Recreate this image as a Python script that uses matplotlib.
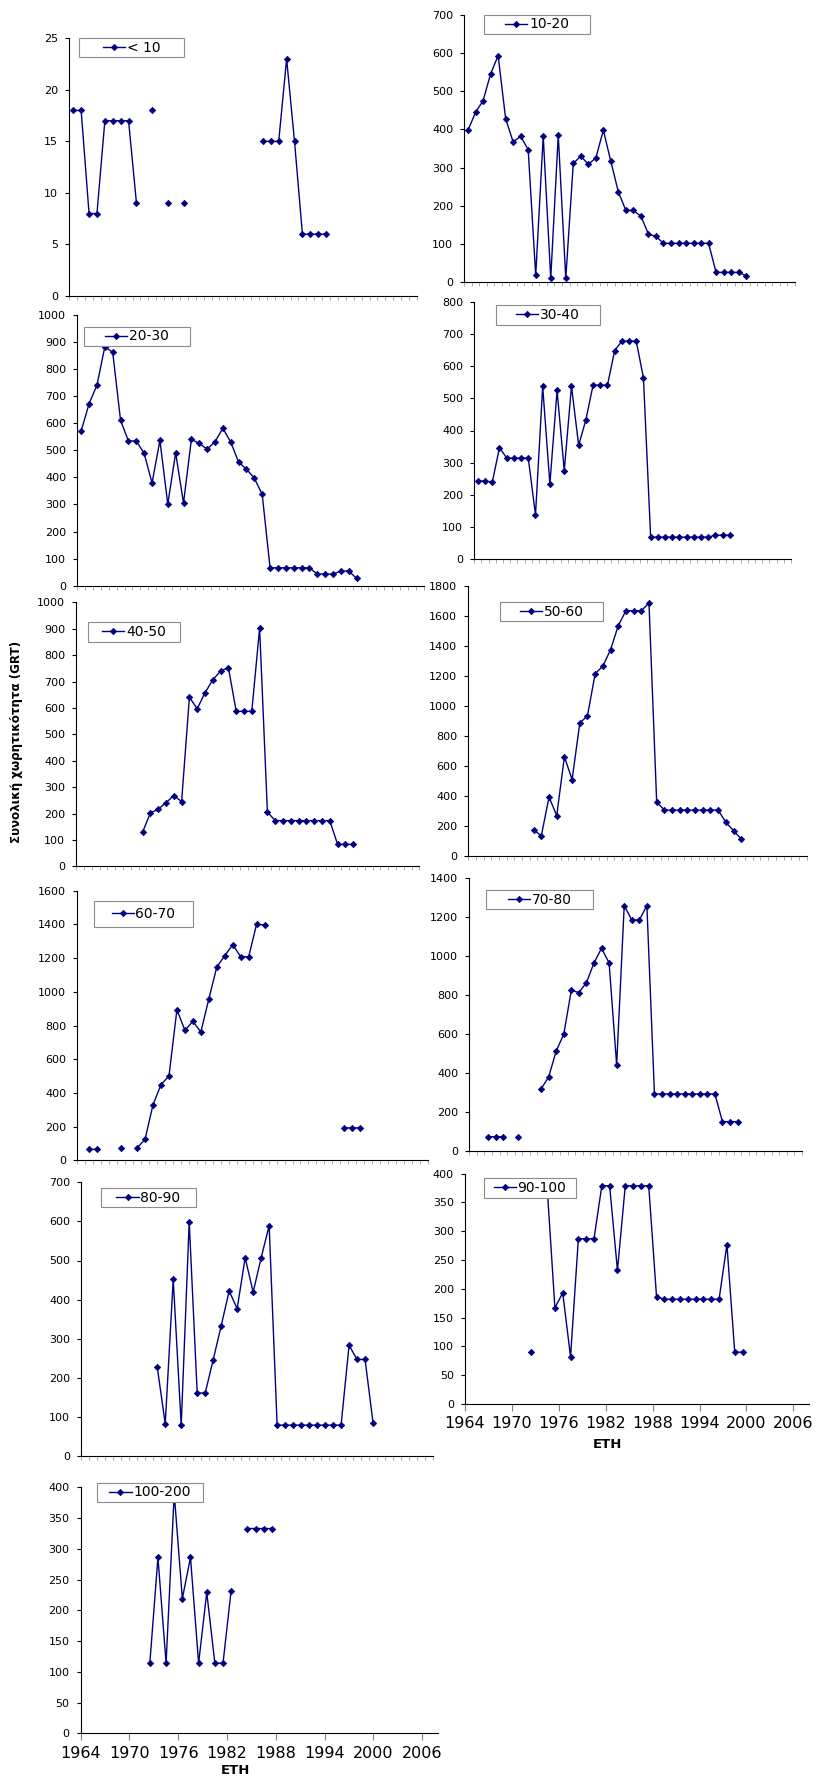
import numpy as np
import matplotlib.pyplot as plt
from matplotlib.patches import Rectangle

plt.rcParams['font.family'] = 'DejaVu Sans'

nan = np.nan
years = np.arange(1964, 2002)

#---------DATA: total tonnage (GRT) per size class, 1964-2001 (nan = no value)----------
lt10 = [18, 18, 8, 8, 17, 17, 17, 17, 9, nan,
        18, nan, 9, nan, 9, nan, nan, nan, nan, nan,
        nan, nan, nan, nan, 15, 15, 15, 23, 15, 6,
        6, 6, 6, nan, nan, nan, nan, nan]
c10_20 = [398, 445, 475, 545, 593, 428, 367, 382, 347, 18,
          382, 10, 385, 10, 311, 330, 309, 325, 398, 316,
          236, 188, 188, 173, 126, 120, 102, 102, 102, 102,
          102, 102, 102, 26, 26, 26, 26, 17]
c20_30 = [572, 672, 740, 882, 861, 610, 534, 534, 488, 379,
          536, 301, 490, 305, 540, 525, 504, 531, 581, 530,
          456, 430, 397, 337, 66, 66, 66, 66, 66, 66,
          43, 43, 43, 54, 54, 27, nan, nan]
c30_40 = [243, 243, 239, 347, 314, 314, 314, 314, 137, 537,
          233, 525, 275, 538, 354, 433, 541, 541, 541, 649,
          678, 678, 678, 564, 68, 68, 68, 68, 68, 68,
          68, 68, 68, 74, 74, 74, nan, nan]
c40_50 = [nan, nan, nan, nan, nan, nan, nan, nan, 130, 202,
          216, 241, 268, 245, 640, 597, 657, 707, 739, 753,
          587, 587, 587, 902, 206, 173, 173, 173, 173, 173,
          173, 173, 173, 83, 83, 83, nan, nan]
c50_60 = [nan, nan, nan, nan, nan, nan, nan, nan, 171, 133,
          391, 267, 660, 507, 884, 933, 1213, 1264, 1373, 1533,
          1633, 1633, 1633, 1684, 358, 304, 304, 304, 304, 304,
          304, 304, 304, 222, 167, 111, nan, nan]
c60_70 = [nan, 65, 65, nan, nan, 73, nan, 73, 125, 330,
          449, 500, 894, 771, 825, 761, 957, 1147, 1214, 1280,
          1208, 1208, 1402, 1396, nan, nan, nan, nan, nan, nan,
          nan, nan, nan, 192, 192, 192, nan, nan]
c70_80 = [nan, nan, 75, 75, 75, nan, 75, nan, nan, 320,
          381, 515, 600, 826, 814, 865, 966, 1041, 966, 443,
          1260, 1186, 1186, 1260, 294, 294, 294, 294, 294, 294,
          294, 294, 294, 152, 152, 152, nan, nan]
c80_90 = [nan, nan, nan, nan, nan, nan, nan, nan, nan, 228,
          82, 452, 79, 599, 161, 161, 246, 333, 422, 377,
          507, 419, 507, 589, 79, 79, 79, 79, 79, 79,
          79, 79, 79, 283, 247, 247, 85, nan]
c90_100 = [nan, nan, nan, nan, nan, nan, nan, nan, 91, nan,
           378, 167, 193, 82, 287, 287, 287, 379, 379, 232,
           379, 379, 379, 379, 186, 182, 182, 182, 182, 182,
           182, 182, 182, 277, 90, 90, nan, nan]
c100_200 = [nan, nan, nan, nan, nan, nan, nan, nan, 114, 286,
            114, 390, 219, 286, 114, 229, 114, 114, 232, nan,
            333, 333, 333, 333, nan, nan, nan, nan, nan, nan,
            nan, nan, nan, nan, nan, nan, nan, nan]

labels = ['< 10', '10-20', '20-30', '30-40', '40-50', '50-60',
          '60-70', '70-80', '80-90', '90-100', '100-200']
series = [lt10, c10_20, c20_30, c30_40, c40_50, c50_60,
          c60_70, c70_80, c80_90, c90_100, c100_200]
ymax = [25, 700, 1000, 800, 1000, 1800, 1600, 1400, 700, 400, 400]
ystep = [5, 100, 100, 100, 100, 200, 200, 200, 100, 50, 50]

#---------LAYOUT (pixels): plot area left, right, top, bottom----------
W, H = 820, 1778
boxes = [(69.3, 417, 38.3, 296), (464.3, 795, 14.7, 282.3),
         (77.3, 423.5, 314.7, 585.7), (474.3, 791, 302, 559),
         (76.3, 419.5, 602.3, 866.3), (468.3, 806.6, 585.7, 855.7),
         (77.3, 428, 890.7, 1160.3), (469.3, 801.8, 878.3, 1151.3),
         (81.3, 433, 1182.3, 1456), (465, 809, 1173.7, 1404),
         (80.7, 438.5, 1487.3, 1733.3)]
# legend boxes: left, right, top, bottom
legboxes = [(79, 184, 38, 57), (484, 590, 15, 34),
            (84, 190, 327, 346), (496, 600, 305, 325),
            (88, 180, 622, 642), (500, 603, 602, 621),
            (94, 193, 901, 927), (486, 593, 890, 909),
            (101, 196, 1188, 1207), (484, 576, 1178, 1198),
            (97, 203, 1483, 1502)]

NAVY = '#000080'

fig = plt.figure(figsize=(W / 100, H / 100), dpi=100)

for i, (vals, lab) in enumerate(zip(series, labels)):
    l, r, t, b = boxes[i]
    ax = fig.add_axes([l / W, 1 - b / H, (r - l) / W, (b - t) / H])
    ax.plot(years + 0.5, vals, color=NAVY, lw=1, marker='D', ms=3.2,
            mec=NAVY, mfc=NAVY, mew=0.6, label=lab)

    ax.set_xlim(1964, 2008)
    ax.set_ylim(0, ymax[i])
    ax.set_yticks(np.arange(0, ymax[i] + 1, ystep[i]))
    ax.tick_params(axis='y', length=3, width=0.8, labelsize=8, pad=5)
    for s in ['top', 'right']:
        ax.spines[s].set_visible(False)
    for s in ['left', 'bottom']:
        ax.spines[s].set_linewidth(0.8)

    if i >= 9:
        ax.set_xticks(np.arange(1964, 2007, 6))
        ax.tick_params(axis='x', length=5, width=0.8, color='#808080',
                       labelsize=11.5, pad=4)
    else:
        ax.set_xticks(np.arange(1964, 2009))
        ax.set_xticklabels([])
        ax.tick_params(axis='x', length=3, width=0.6, color='#a0a0a0')

    #------legend box------
    lx0, lx1, ly0, ly1 = legboxes[i]
    ax.add_patch(Rectangle((lx0 / W, 1 - ly1 / H), (lx1 - lx0) / W, (ly1 - ly0) / H,
                           transform=fig.transFigure, facecolor='white',
                           edgecolor='#8c8c8c', lw=0.8, zorder=4.9, clip_on=False))
    ax.legend(loc='center', bbox_to_anchor=((lx0 + lx1) / 2 / W, 1 - (ly0 + ly1) / 2 / H),
              bbox_transform=fig.transFigure, frameon=False, fontsize=10,
              handlelength=1.6, handletextpad=0.12, borderpad=0, borderaxespad=0)

fig.text(17 / W, 1 - 742 / H, 'Συνολική χωρητικότητα (GRT)', rotation=90,
         ha='center', va='center', fontsize=8.6, fontweight='bold')
fig.text(607 / W, 1 - 1445 / H, 'ETH', ha='center', va='center',
         fontsize=9.5, fontweight='bold')
fig.text(235 / W, 1 - 1770 / H, 'ETH', ha='center', va='center',
         fontsize=9.5, fontweight='bold')

fig.savefig('out.png', dpi=100)
